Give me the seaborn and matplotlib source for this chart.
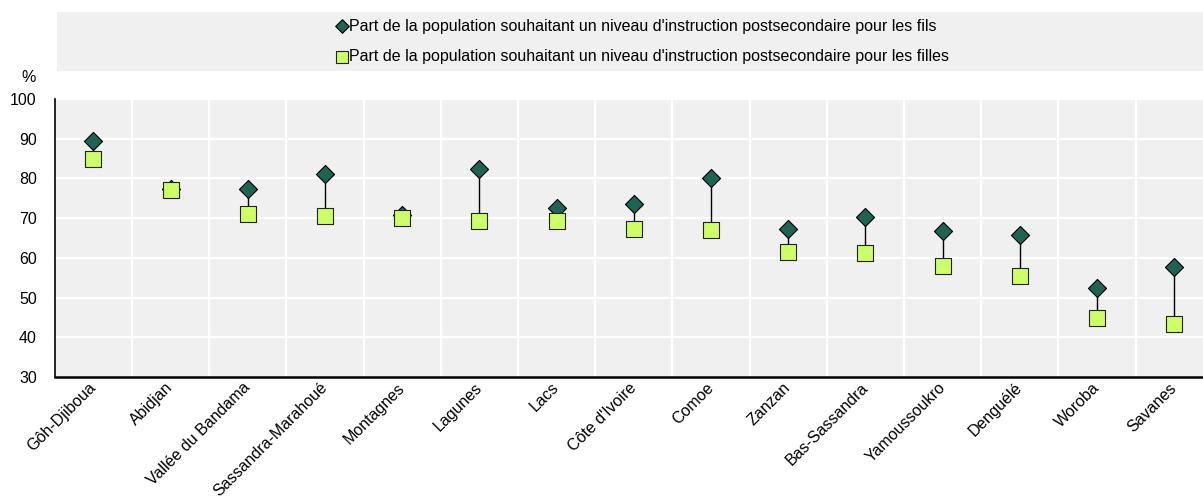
import matplotlib
matplotlib.use("Agg")
import matplotlib.pyplot as plt
from matplotlib.patches import Rectangle
from matplotlib.ticker import FixedLocator
import numpy as np
import pandas as pd
import seaborn as sns

regions = [
    "Gôh-Djiboua", "Abidjan", "Vallée du Bandama", "Sassandra-Marahoué",
    "Montagnes", "Lagunes", "Lacs", "Côte d'Ivoire", "Comoe", "Zanzan",
    "Bas-Sassandra", "Yamoussoukro", "Denguélé", "Woroba", "Savanes",
]
fils = [89.5, 77.3, 77.3, 81.1, 70.8, 82.5, 72.5, 73.6, 80.1, 67.2,
        70.4, 66.8, 65.8, 52.3, 57.8]
filles = [84.9, 77.2, 71.0, 70.5, 70.0, 69.4, 69.4, 67.3, 67.0, 61.6,
          61.2, 58.0, 55.4, 44.8, 43.3]

lab_fils = "Part de la population souhaitant un niveau d'instruction postsecondaire pour les fils"
lab_filles = "Part de la population souhaitant un niveau d'instruction postsecondaire pour les filles"

sns.set_style("white")
plt.rcParams.update({
    "font.family": ["Liberation Sans", "DejaVu Sans"],
    "font.size": 11.5,
    "text.color": "black",
    "xtick.labelcolor": "black",
    "ytick.labelcolor": "black",
})

df = pd.DataFrame({"region": regions, "fils": fils, "filles": filles})

fig = plt.figure(figsize=(12.03, 5.0), dpi=100)
ax = fig.add_axes([0.0456, 0.246, 0.9544, 0.556])
ax.set_facecolor("#f0f0f0")

# connecting lines fils -> filles
ax.vlines(np.arange(len(regions)), df["filles"], df["fils"],
          color="black", linewidth=1.0, zorder=2)

sns.scatterplot(data=df, x="region", y="fils", marker="D", s=85,
                color="#1e6455", edgecolor="black", linewidth=0.8,
                zorder=3, ax=ax, label=lab_fils)
sns.scatterplot(data=df, x="region", y="filles", marker="s", s=140,
                color="#ccff66", edgecolor="#222222", linewidth=0.8,
                zorder=4, ax=ax, label=lab_filles)

n = len(regions)
ax.set_xlim(-0.5, 14.373)
ax.set_ylim(30, 100)
ax.set_yticks(range(30, 101, 10))
ax.set_xticks(range(n))
ax.set_xticklabels(regions, rotation=45, ha="right", va="center",
                   rotation_mode="anchor")
ax.xaxis.set_minor_locator(FixedLocator(np.arange(0.5, n, 1.0)))
ax.tick_params(axis="x", which="major", length=0, pad=6)
ax.tick_params(axis="x", which="minor", direction="in", length=5,
               width=1.2, color="black")
ax.tick_params(axis="y", direction="in", length=5, width=1.2,
               color="black", pad=13)
ax.set_xlabel("")
ax.set_ylabel("")

ax.grid(False)
ax.yaxis.grid(True, color="white", linewidth=1.6)
ax.xaxis.grid(True, which="minor", color="white", linewidth=1.6)
ax.set_axisbelow(True)

for s in ["top", "right"]:
    ax.spines[s].set_visible(False)
ax.spines["left"].set_color("black")
ax.spines["left"].set_linewidth(1.2)
ax.spines["bottom"].set_color("black")
ax.spines["bottom"].set_linewidth(1.8)

fig.text(0.024, 0.845, "%", fontsize=11.5, ha="center", va="center")

# legend band
fig.patches.append(Rectangle((0.047, 0.858), 0.953, 0.118,
                             transform=fig.transFigure,
                             facecolor="#f0f0f0", edgecolor="none", zorder=0))
handles, labels = ax.get_legend_handles_labels()
ax.get_legend().remove()
fig.legend(handles, labels, loc="center", bbox_to_anchor=(0.534, 0.917),
           frameon=False, fontsize=11.5, handletextpad=0.05, handlelength=0.8,
           labelspacing=1.0, borderaxespad=0, markerscale=0.75)

fig.savefig("out.png", dpi=100)
plt.close(fig)
